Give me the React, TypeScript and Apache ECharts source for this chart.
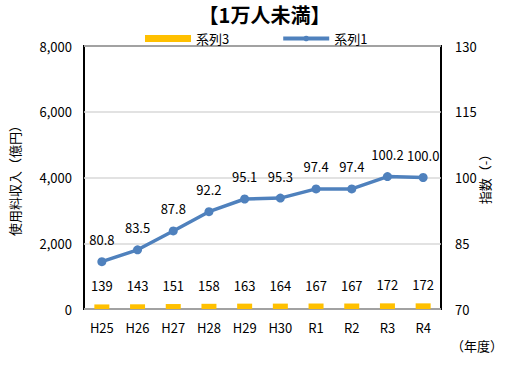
import React, { useEffect, useRef } from "react";
import * as echarts from "echarts";

const categories = ["H25", "H26", "H27", "H28", "H29", "H30", "R1", "R2", "R3", "R4"];
const revenue = [139, 143, 151, 158, 163, 164, 167, 167, 172, 172];
const index = [80.8, 83.5, 87.8, 92.2, 95.1, 95.3, 97.4, 97.4, 100.2, 100.0];

const FONT = "'Noto Sans CJK JP', 'Noto Sans', sans-serif";

export default function App() {
  const ref = useRef<HTMLDivElement>(null);
  useEffect(() => {
    document.body.style.margin = "0";
    const chart = echarts.init(ref.current!, null, { renderer: "svg" });
    chart.setOption({
      animation: false,
      textStyle: { fontFamily: FONT, color: "#000" },
      title: {
        text: "【1万人未満】",
        left: "center",
        top: -1,
        textStyle: { fontFamily: FONT, fontSize: 20, fontWeight: "bold", color: "#000" },
      },
      legend: {
        top: 27,
        left: 140,
        itemGap: 52,
        textStyle: { fontFamily: FONT, fontSize: 13, color: "#000" },
        data: [
          { name: "系列3", icon: "rect", itemStyle: { color: "#FFC000" } },
          { name: "系列1", lineStyle: { width: 4, color: "#4F81BD" } },
        ],
        itemWidth: 46,
        itemHeight: 7,
      },
      grid: {
        left: 76,
        right: 88,
        top: 46,
        bottom: 57,
        show: true,
        borderColor: "#000",
        borderWidth: 2,
        containLabel: false,
      },
      xAxis: {
        type: "category",
        data: categories,
        axisLine: { show: false },
        axisTick: { show: false },
        axisLabel: { fontFamily: FONT, fontSize: 13, color: "#000", margin: 12 },
      },
      yAxis: [
        {
          type: "value",
          min: 0,
          max: 8000,
          interval: 2000,
          name: "使用料収入（億円）",
          nameLocation: "middle",
          nameGap: 63,
          nameTextStyle: { fontFamily: FONT, fontSize: 13, color: "#000" },
          axisLine: { show: false },
          axisTick: { show: false },
          axisLabel: {
            fontFamily: FONT,
            fontSize: 13,
            color: "#000",
            margin: 12,
            formatter: (v: number) => v.toLocaleString("en-US"),
          },
          splitLine: { lineStyle: { color: "#d9d9d9", width: 1.5 } },
        },
        {
          type: "value",
          min: 70,
          max: 130,
          interval: 15,
          position: "right",
          axisLine: { show: false },
          axisTick: { show: false },
          axisLabel: { fontFamily: FONT, fontSize: 13, color: "#000", margin: 14 },
          splitLine: { show: false },
        },
      ],
      series: [
        {
          name: "系列3",
          type: "bar",
          data: revenue,
          yAxisIndex: 0,
          barWidth: 15,
          itemStyle: { color: "#FFC000" },
          label: {
            show: true,
            position: "top",
            distance: 12,
            fontFamily: FONT,
            fontSize: 13,
            color: "#000",
          },
        },
        {
          name: "系列1",
          type: "line",
          data: index,
          yAxisIndex: 1,
          symbol: "circle",
          symbolSize: 9,
          lineStyle: { color: "#4F81BD", width: 3.5 },
          itemStyle: { color: "#4F81BD" },
          label: {
            show: true,
            position: "top",
            distance: 11,
            fontFamily: FONT,
            fontSize: 13,
            color: "#000",
            formatter: (p: any) => p.value.toFixed(1),
          },
        },
      ],
      graphic: [
        {
          type: "text",
          x: 484,
          y: 176,
          rotation: Math.PI / 2,
          style: {
            text: "指数（-）",
            fontFamily: FONT,
            fontSize: 13,
            fill: "#000",
            align: "center",
            verticalAlign: "middle",
          },
        },
        {
          type: "text",
          left: 451,
          top: 339,
          style: { text: "（年度）", fontFamily: FONT, fontSize: 13, fill: "#000" },
        },
      ],
    });
    return () => chart.dispose();
  }, []);
  return <div ref={ref} style={{ width: 529, height: 366 }} />;
}
